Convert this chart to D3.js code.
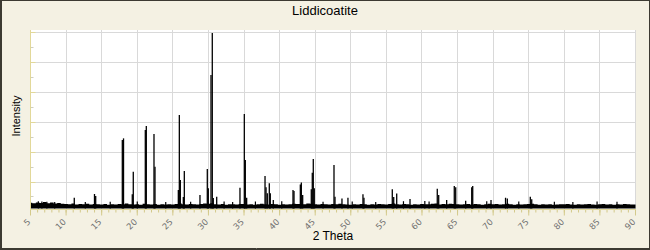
<html>
<head>
<style>
  body { margin: 0; background: #fff; }
  svg { display: block; font-family: "Liberation Sans", Arial, sans-serif; }
</style>
</head>
<body>
<svg id="chart" width="650" height="250"></svg>
<script src="https://cdn.jsdelivr.net/npm/d3@7"></script>
<script>
// reflections, 2 theta (deg) and intensity (counts)
let peakTheta = [11.15, 13.99, 14.16, 17.90, 18.07, 19.30, 19.44, 21.13, 21.27, 22.35, 22.49,
    25.77, 25.91, 26.05, 26.47, 26.61, 28.81, 29.84, 29.98, 30.36, 30.54, 30.68, 31.16,
    34.43, 35.04, 35.18, 35.37, 37.95, 38.09, 38.27, 38.55, 38.69, 39.11, 41.88, 42.02,
    42.91, 43.05, 43.24, 44.45, 44.59, 44.73, 44.87, 47.64, 47.78, 48.76, 49.60, 51.71,
    51.85, 55.83, 56.03, 56.45, 58.32, 62.15, 62.35, 63.47, 64.54, 64.74, 66.14, 66.99,
    67.13, 69.70, 71.74, 71.99, 75.22, 75.42]
let peakIntensity = [95, 120, 107, 480, 491, 118, 269, 547, 573, 520, 302,
    147, 647, 213, 100, 273, 113, 287, 158, 913, 1193, 93, 102,
    162, 653, 347, 95, 240, 165, 125, 191, 125, 80, 147, 140,
    184, 196, 113, 151, 262, 353, 158, 313, 102, 90, 95, 118,
    95, 151, 100, 124, 87, 155, 113, 80, 173, 165, 75, 165,
    173, 80, 95, 90, 102, 85]

// little noise spikes sticking out of the background
let spikeTheta = [6.1, 6.6, 7.3, 8.4, 12.7, 16.2, 20.0, 24.0, 27.5, 32.2, 33.4, 36.6, 40.3,
    46.1, 50.2, 53.5, 57.4, 60.4, 61.0, 69.1, 73.6, 78.6, 81.2, 84.6, 87.4]
let spikeIntensity = [72, 70, 68, 66, 66, 68, 70, 66, 68, 70, 66, 70, 72,
    68, 70, 66, 72, 74, 70, 72, 70, 68, 66, 70, 68]

// background band, top edge every 0.5 deg from 5 to 90
let bgStart = 5, bgStep = 0.5
let bgTop = [62, 58, 64, 60, 66, 59, 63, 57, 60, 55,
    54, 52, 56, 50, 53, 51, 55, 50, 54, 52,
    50, 53, 49, 52, 50, 54, 51, 56, 52, 50,
    52, 49, 55, 51, 50, 53, 49, 52, 50, 51,
    50, 53, 56, 52, 50, 54, 51, 50, 53, 57,
    55, 58, 52, 50, 53, 49, 51, 52, 50, 54,
    53, 50, 52, 49, 51, 55, 52, 50, 53, 51,
    49, 52, 50, 51, 55, 53, 54, 52, 56, 55,
    52, 50, 53, 51, 50, 54, 52, 55, 51, 50,
    49, 52, 50, 53, 51, 49, 52, 50, 53, 51,
    50, 54, 56, 52, 50, 53, 51, 49, 52, 50,
    53, 51, 52, 55, 57, 50, 53, 51, 55, 54,
    52, 50, 51, 54, 50, 53, 51, 49, 52, 55,
    51, 53, 50, 52, 55, 51, 49, 52, 50, 51,
    53, 55, 51, 49, 52, 50, 51, 49, 50, 52,
    51, 53, 50, 49, 52, 50, 51, 53, 50, 49,
    52, 54, 50, 51, 49, 52, 50, 53, 51, 50,
    50]
let bgFloor = 23

let xTicks = [5, 10, 15, 20, 25, 30, 35, 40, 45, 50, 55, 60, 65, 70, 75, 80, 85, 90]
let xMinor = d3.range(5, 91, 1)
let yGrid = [200, 400, 600, 800, 1000, 1200]
let yMinor = [100, 300, 500, 700, 900, 1100]

let svg = d3.select("#chart")
let pLeft = 30, pRight = 636, pTop = 30, pBottom = 209.5

let x = d3.scaleLinear().domain([5, 90]).range([30.5, 635.5])
let y = d3.scaleLinear().domain([0, 1200]).range([212, 32])

// frame
svg.append("rect").attr("width", 650).attr("height", 250).attr("fill", "#f4f1e3")
svg.append("rect").attr("x", 0.5).attr("y", 0.5).attr("width", 649).attr("height", 249)
    .attr("fill", "none").attr("stroke", "#3c3a32")
svg.append("line").attr("x1", 1.5).attr("x2", 1.5).attr("y1", 0).attr("y2", 250).attr("stroke", "#3c3a32")
svg.append("line").attr("x1", 0).attr("x2", 650).attr("y1", 248.5).attr("y2", 248.5).attr("stroke", "#3c3a32")

svg.append("rect").attr("x", pLeft).attr("y", pTop)
    .attr("width", pRight - pLeft).attr("height", pBottom - pTop).attr("fill", "#fff")

// grid
svg.append("g").selectAll("line").data(yGrid).enter().append("line")
    .attr("x1", pLeft).attr("x2", pRight)
    .attr("y1", d => Math.floor(y(d)) + 0.5).attr("y2", d => Math.floor(y(d)) + 0.5)
    .attr("stroke", "#d9d9d9")
svg.append("g").selectAll("line").data(xTicks).enter().append("line")
    .attr("x1", d => Math.floor(x(d)) + 0.5).attr("x2", d => Math.floor(x(d)) + 0.5)
    .attr("y1", pTop).attr("y2", pBottom)
    .attr("stroke", "#d9d9d9")

// data
svg.append("clipPath").attr("id", "clip").append("rect")
    .attr("x", pLeft).attr("y", pTop).attr("width", pRight - pLeft).attr("height", pBottom - pTop - 0.5)
let plot = svg.append("g").attr("clip-path", "url(#clip)")

let band = d3.area()
    .x((d, i) => x(bgStart + i * bgStep))
    .y0(y(bgFloor))
    .y1(d => y(d))
    .curve(d3.curveStep)
plot.append("path").datum(bgTop).attr("d", band).attr("fill", "#000")

plot.append("g").selectAll("line").data(spikeTheta).enter().append("line")
    .attr("x1", d => x(d)).attr("x2", d => x(d))
    .attr("y1", y(bgFloor)).attr("y2", (d, i) => y(spikeIntensity[i]))
    .attr("stroke", "#000").attr("stroke-width", 1.2)

plot.append("g").selectAll("line").data(peakTheta).enter().append("line")
    .attr("x1", d => x(d)).attr("x2", d => x(d))
    .attr("y1", y(bgFloor)).attr("y2", (d, i) => y(peakIntensity[i]))
    .attr("stroke", "#000").attr("stroke-width", 1.3)

// axes
let axisColor = "#e2d899"
let tickColor = "#d3c98a"

let xMinorAxis = svg.append("g").attr("transform", `translate(0,${pBottom})`)
    .call(d3.axisBottom(x).tickValues(xMinor).tickSize(3).tickFormat("").offset(0))
let xAxis = svg.append("g").attr("transform", `translate(0,${pBottom})`)
    .call(d3.axisBottom(x).tickValues(xTicks).tickSize(6).offset(0))
xMinorAxis.select(".domain").remove()
xAxis.select(".domain").remove()
xMinorAxis.selectAll("line").attr("stroke", tickColor)
xAxis.selectAll("line").attr("stroke", tickColor)
xAxis.selectAll("text")
    .attr("x", 0).attr("y", 0).attr("dy", null)
    .attr("transform", "translate(0.5,13) rotate(-45)")
    .attr("text-anchor", "end")
    .attr("fill", "#707070")
    .style("font-family", "DejaVu Sans, Verdana, sans-serif")
    .style("font-size", "8.5px")

let yMinorAxis = svg.append("g").attr("transform", `translate(${pLeft + 0.5},0)`)
    .call(d3.axisRight(y).tickValues(yMinor).tickSize(3).tickFormat("").offset(0))
let yAxis = svg.append("g").attr("transform", `translate(${pLeft + 0.5},0)`)
    .call(d3.axisRight(y).tickValues(yGrid).tickSize(5).tickFormat("").offset(0))
yMinorAxis.select(".domain").remove()
yAxis.select(".domain").remove()
yMinorAxis.selectAll("line").attr("stroke", "#cfcfc0")
yAxis.selectAll("line").attr("stroke", axisColor)
yAxis.selectAll(".tick").attr("transform", d => `translate(0,${Math.floor(y(d)) + 0.5})`)
yMinorAxis.selectAll(".tick").attr("transform", d => `translate(0,${Math.floor(y(d)) + 0.5})`)

svg.append("line").attr("x1", pLeft + 0.5).attr("x2", pLeft + 0.5).attr("y1", pTop).attr("y2", pBottom + 0.5)
    .attr("stroke", axisColor)
svg.append("line").attr("x1", pLeft).attr("x2", pRight).attr("y1", pBottom).attr("y2", pBottom)
    .attr("stroke", axisColor)

// labels
svg.append("text").attr("x", 325).attr("y", 14.5).attr("text-anchor", "middle")
    .style("font-size", "13px").text("Liddicoatite")
svg.append("text").attr("x", 333).attr("y", 240).attr("text-anchor", "middle")
    .style("font-size", "12px").text("2 Theta")
svg.append("text").attr("transform", "translate(20,116) rotate(-90)").attr("text-anchor", "middle")
    .style("font-size", "11px").text("Intensity")
</script>
</body>
</html>
